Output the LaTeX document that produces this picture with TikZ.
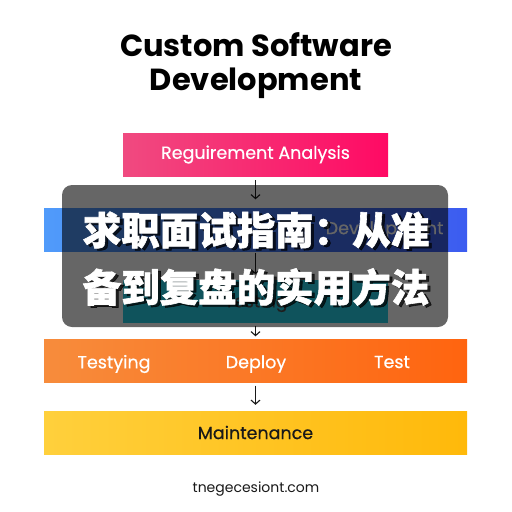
\documentclass[tikz,border=0pt]{standalone}
\usepackage{fontspec}
\setmainfont{Poppins}
\newfontfamily\labelfont[FakeBold=0.5]{Poppins}
\newfontfamily\cjk[FakeBold=1.5]{Noto Sans CJK SC}
\usetikzlibrary{arrows.meta}
\definecolor{pinkL}{RGB}{240,74,128}
\definecolor{pinkR}{RGB}{255,10,100}
\definecolor{blueL}{RGB}{80,155,250}
\definecolor{blueR}{RGB}{60,92,240}
\definecolor{tealC}{RGB}{38,208,232}
\definecolor{orangeL}{RGB}{247,140,60}
\definecolor{orangeR}{RGB}{255,100,15}
\definecolor{yellowL}{RGB}{255,208,60}
\definecolor{yellowR}{RGB}{255,185,10}
\definecolor{inkC}{RGB}{25,25,25}
\tikzset{
  narrowbox/.style={minimum width=265pt,minimum height=43pt,inner sep=0pt,draw=none},
  widebar/.style={minimum width=423pt,minimum height=43pt,inner sep=0pt,draw=none},
  boxlabel/.style={font=\labelfont\fontsize{17.5}{20}\selectfont,text=white},
  flowarrow/.style={draw=inkC,line width=1.1pt,-{Straight Barb[length=4pt,width=9pt]}},
  cjktext/.style={font=\cjk\bfseries\fontsize{38.5}{42}\selectfont,inner sep=0pt}
}
\begin{document}
\begin{tikzpicture}[x=1pt,y=-1pt]
\useasboundingbox (0,0) rectangle (512,512);
\fill[white] (0,0) rectangle (512,512);
% title
\node[font=\bfseries\fontsize{30.5}{34}\selectfont,text=black,align=center] (title) at (256,66) {Custom Software\\Development};
% boxes
\node[narrowbox,left color=pinkL,right color=pinkR] (req) at (255.5,154.5) {};
\node[boxlabel] (reqtxt) at (req.center) {Reguirement Analysis};
\node[widebar,left color=blueL,right color=blueR] (dev) at (255.5,230) {};
\node[boxlabel,anchor=east] (devtxt) at (447,230) {Development};
\node[narrowbox,fill=tealC] (test) at (255.5,301) {};
\node[font=\labelfont\fontsize{17.5}{20}\selectfont,text=black!70] (testtxt) at (256,303) {Testing};
\node[widebar,left color=orangeL,right color=orangeR] (dep) at (255.5,361) {};
\node[boxlabel] (t1) at (114,364) {Testying};
\node[boxlabel] (t2) at (256,364) {Deploy};
\node[boxlabel] (t3) at (392,362) {Test};
\node[widebar,left color=yellowL,right color=yellowR] (mnt) at (255.5,432.5) {};
\node[font=\labelfont\fontsize{17.5}{20}\selectfont,text=inkC] (mnttxt) at (mnt.center) {Maintenance};
% arrows
\draw[flowarrow,shorten <=4pt,shorten >=9pt] (req.south) -- (dev.north);
\draw[flowarrow,shorten <=1pt,shorten >=5pt] (dev.south) -- (test.north);
\draw[flowarrow,shorten <=3pt,shorten >=3pt] (test.south) -- (dep.north);
\draw[flowarrow,shorten <=3pt,shorten >=6pt] (dep.south) -- (mnt.north);
% footer
\node[font=\fontsize{14}{16}\selectfont,text=inkC] (foot) at (256,489) {tnegecesiont.com};
% overlay
\fill[black,opacity=0.6,rounded corners=10pt] (62,185) rectangle (448,327);
\node[cjktext,text=black,opacity=0.7] (sh1) at (259,232) {求职面试指南：从准};
\node[cjktext,text=black,opacity=0.7] (sh2) at (259,289) {备到复盘的实用方法};
\node[cjktext,text=white] (l1) at (256,230) {求职面试指南：从准};
\node[cjktext,text=white] (l2) at (256,287) {备到复盘的实用方法};
\end{tikzpicture}
\end{document}
